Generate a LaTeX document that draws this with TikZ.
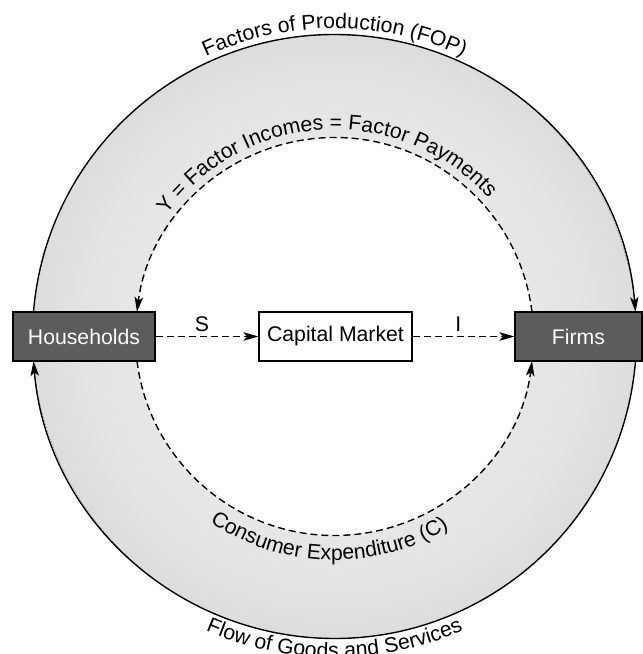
\documentclass[tikz,border=0pt]{standalone}
\usepackage{fontspec}
\setmainfont{Liberation Sans}
\usetikzlibrary{arrows.meta,decorations.text}

\definecolor{ringin}{gray}{0.905}
\definecolor{ringmid}{gray}{0.89}
\definecolor{ringout}{gray}{0.865}
\definecolor{boxdark}{RGB}{92,92,92}

% light band between the money loop and the real loop
\pgfdeclareradialshading{ringshade}{\pgfpoint{0bp}{0bp}}{%
  color(0bp)=(ringin); color(16.5bp)=(ringin); color(21bp)=(ringmid);
  color(25bp)=(ringout); color(50bp)=(ringout)}

\newcommand\labelfont{\fontsize{21.3}{25}\selectfont}

\begin{document}
\begin{tikzpicture}[x=1bp,y=1bp,
  flow/.style={line width=1.4bp, -{Stealth[length=15bp,width=8.5bp,inset=3.5bp]}},
  dashflow/.style={flow, dash pattern=on 7bp off 4bp},
  sector/.style={draw=black, line width=1.2bp, fill=boxdark, text=white,
    minimum height=49bp, inner sep=0pt, font=\labelfont},
  market/.style={draw=black, line width=1.2bp, fill=white,
    minimum height=49bp, inner sep=0pt, font=\labelfont},
  flowlabel/.style={above=3bp, inner sep=1bp, font=\labelfont}
]
\useasboundingbox (-334.5,-317.5) rectangle (308.5,336.5);
\coordinate (c) at (0,0);

% shaded ring
\fill[shading=ringshade] (c) circle[radius=302];
\fill[white] (c) circle[radius=199];

% real flows (outer loop)
\coordinate (fopstart) at (175.35:302);
\coordinate (goodsstart) at (-4.65:302);
\draw[flow] (fopstart) arc[start angle=175.35, end angle=4.65, radius=302];
\draw[flow] (goodsstart) arc[start angle=-4.65, end angle=-175.35, radius=302];

% money flows (inner loop)
\coordinate (incstart) at (7.07:199);
\coordinate (expstart) at (187.07:199);
\draw[dashflow] (incstart) arc[start angle=7.07, end angle=172.93, radius=199];
\draw[dashflow] (expstart) arc[start angle=187.07, end angle=352.93, radius=199];

% curved captions
\path[decorate, decoration={text along path, text align=center,
    text={|\labelfont|Factors of Production (FOP)}}]
  (150:308) arc[start angle=150, end angle=30, radius=308];
\path[decorate, decoration={text along path, text align=center,
    text={|\labelfont|Y = Factor Incomes = Factor Payments}}]
  (173:207) arc[start angle=173, end angle=13, radius=207];
\path[decorate, decoration={text along path, text align=center,
    text={|\labelfont|Consumer Expenditure (C)}}]
  (198.5:223.5) arc[start angle=198.5, end angle=338.5, radius=223.5];
\path[decorate, decoration={text along path, text align=center,
    text={|\labelfont|Flow of Goods and Services}}]
  (200:321) arc[start angle=200, end angle=340, radius=321];

% sectors
\node[sector, minimum width=142bp] (hh) at (-250.5,0) {Households};
\node[sector, minimum width=127bp] (firms) at (244,0) {Firms};
\node[market, minimum width=153bp] (cm) at (1,0) {Capital Market};

% saving and investment
\draw[dashflow] (hh) -- node[flowlabel, pos=0.45] {S} (cm);
\draw[dashflow] (cm) -- node[flowlabel, pos=0.45] {I} (firms);
\end{tikzpicture}
\end{document}
